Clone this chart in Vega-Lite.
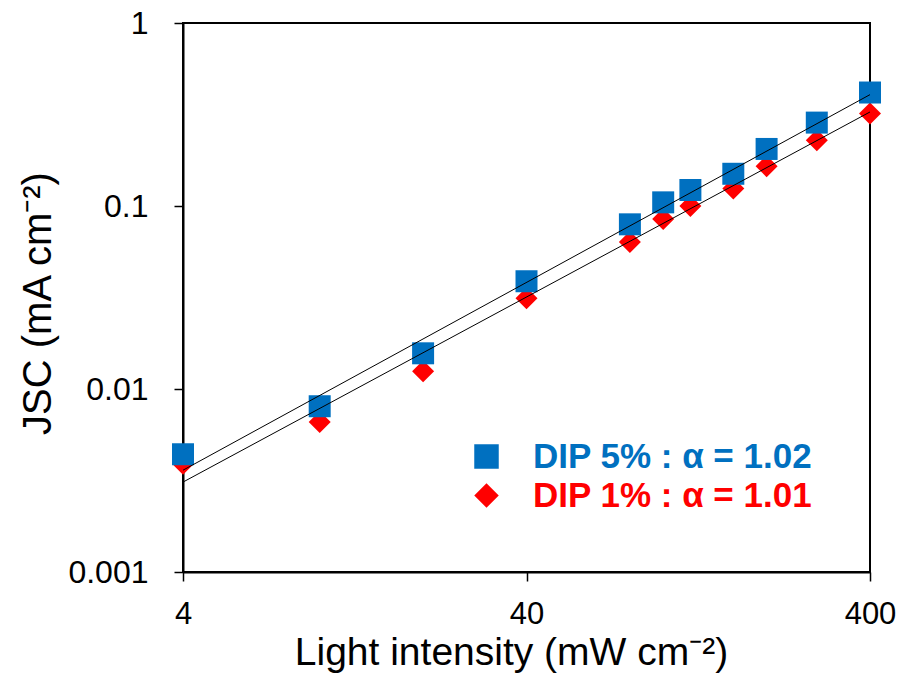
{
  "$schema": "https://vega.github.io/schema/vega-lite/v6.json",
  "width": 687,
  "height": 549,
  "autosize": "none",
  "padding": {"left": 183, "top": 23, "right": 34, "bottom": 123},
  "background": "white",
  "config": {
    "view": {"stroke": "black", "strokeWidth": 2},
    "font": "Liberation Sans"
  },
  "datasets": {
    "points": [
      {"series": "DIP 1% : α = 1.01", "intensity": 4, "jsc": 0.0039},
      {"series": "DIP 1% : α = 1.01", "intensity": 10, "jsc": 0.0066},
      {"series": "DIP 1% : α = 1.01", "intensity": 20, "jsc": 0.0125},
      {"series": "DIP 1% : α = 1.01", "intensity": 40, "jsc": 0.0313},
      {"series": "DIP 1% : α = 1.01", "intensity": 80, "jsc": 0.0636},
      {"series": "DIP 1% : α = 1.01", "intensity": 100, "jsc": 0.0849},
      {"series": "DIP 1% : α = 1.01", "intensity": 120, "jsc": 0.100},
      {"series": "DIP 1% : α = 1.01", "intensity": 160, "jsc": 0.1245},
      {"series": "DIP 1% : α = 1.01", "intensity": 200, "jsc": 0.165},
      {"series": "DIP 1% : α = 1.01", "intensity": 280, "jsc": 0.2286},
      {"series": "DIP 1% : α = 1.01", "intensity": 400, "jsc": 0.320},
      {"series": "DIP 5% : α = 1.02", "intensity": 4, "jsc": 0.0044},
      {"series": "DIP 5% : α = 1.02", "intensity": 10, "jsc": 0.00805},
      {"series": "DIP 5% : α = 1.02", "intensity": 20, "jsc": 0.01567},
      {"series": "DIP 5% : α = 1.02", "intensity": 40, "jsc": 0.0388},
      {"series": "DIP 5% : α = 1.02", "intensity": 80, "jsc": 0.0794},
      {"series": "DIP 5% : α = 1.02", "intensity": 100, "jsc": 0.1047},
      {"series": "DIP 5% : α = 1.02", "intensity": 120, "jsc": 0.1223},
      {"series": "DIP 5% : α = 1.02", "intensity": 160, "jsc": 0.150},
      {"series": "DIP 5% : α = 1.02", "intensity": 200, "jsc": 0.205},
      {"series": "DIP 5% : α = 1.02", "intensity": 280, "jsc": 0.2856},
      {"series": "DIP 5% : α = 1.02", "intensity": 400, "jsc": 0.417}
    ],
    "fits": [
      {"fit": "DIP 5%", "intensity": 4, "jsc": 0.0036},
      {"fit": "DIP 5%", "intensity": 400, "jsc": 0.406},
      {"fit": "DIP 1%", "intensity": 4, "jsc": 0.0031},
      {"fit": "DIP 1%", "intensity": 400, "jsc": 0.3265}
    ]
  },
  "layer": [
    {
      "data": {"name": "points"},
      "mark": {"type": "point", "filled": true, "opacity": 1, "size": 484, "strokeWidth": 0},
      "encoding": {
        "x": {
          "field": "intensity",
          "type": "quantitative",
          "scale": {"type": "log", "domain": [4, 400], "nice": false},
          "axis": {
            "values": [4, 40, 400],
            "format": "~g",
            "grid": false,
            "labelFontSize": 31,
            "labelColor": "black",
            "labelPadding": 18,
            "labelFlush": false,
            "labelOverlap": false,
            "tickColor": "black",
            "tickSize": 9,
            "tickWidth": 1.5,
            "domainColor": "black",
            "domainWidth": 2,
            "title": "Light intensity (mW cm⁻²)",
            "titleFontSize": 39,
            "titleFontWeight": "normal",
            "titleColor": "black",
            "titleX": 328,
            "titleY": 92,
            "titleBaseline": "alphabetic"
          }
        },
        "y": {
          "field": "jsc",
          "type": "quantitative",
          "scale": {"type": "log", "domain": [0.001, 1], "nice": false},
          "axis": {
            "values": [0.001, 0.01, 0.1, 1],
            "format": "~g",
            "grid": false,
            "labelFontSize": 32,
            "labelColor": "black",
            "labelPadding": 26,
            "labelFlush": false,
            "labelOverlap": false,
            "tickColor": "black",
            "tickSize": 9,
            "tickWidth": 1.5,
            "domainColor": "black",
            "domainWidth": 2,
            "title": "JSC (mA cm⁻²)",
            "titleFontSize": 40,
            "titleFontWeight": "normal",
            "titleColor": "black",
            "titleAngle": -90,
            "titleX": -145,
            "titleY": 280,
            "titleBaseline": "middle",
            "titleAlign": "center"
          }
        },
        "color": {
          "field": "series",
          "type": "nominal",
          "scale": {"domain": ["DIP 5% : α = 1.02", "DIP 1% : α = 1.01"], "range": ["#0070C0", "#FF0000"]},
          "legend": {
            "title": null,
            "orient": "none",
            "legendX": 286,
            "legendY": 416,
            "padding": 0,
            "labelFontSize": 35,
            "labelFontWeight": "bold",
            "labelOffset": 29,
            "labelLimit": 500,
            "symbolSize": 600,
            "symbolStrokeWidth": 0,
            "symbolOpacity": 1,
            "rowPadding": 3,
            "encode": {
              "labels": {
                "update": {
                  "fill": {"signal": "indexof(datum.value, '5%') >= 0 ? '#0070C0' : '#FF0000'"}
                }
              }
            }
          }
        },
        "shape": {
          "field": "series",
          "type": "nominal",
          "scale": {"domain": ["DIP 5% : α = 1.02", "DIP 1% : α = 1.01"], "range": ["square", "diamond"]}
        }
      }
    },
    {
      "data": {"name": "fits"},
      "mark": {"type": "line", "color": "black", "strokeWidth": 1},
      "encoding": {
        "x": {"field": "intensity", "type": "quantitative"},
        "y": {"field": "jsc", "type": "quantitative"},
        "detail": {"field": "fit"}
      }
    }
  ]
}
